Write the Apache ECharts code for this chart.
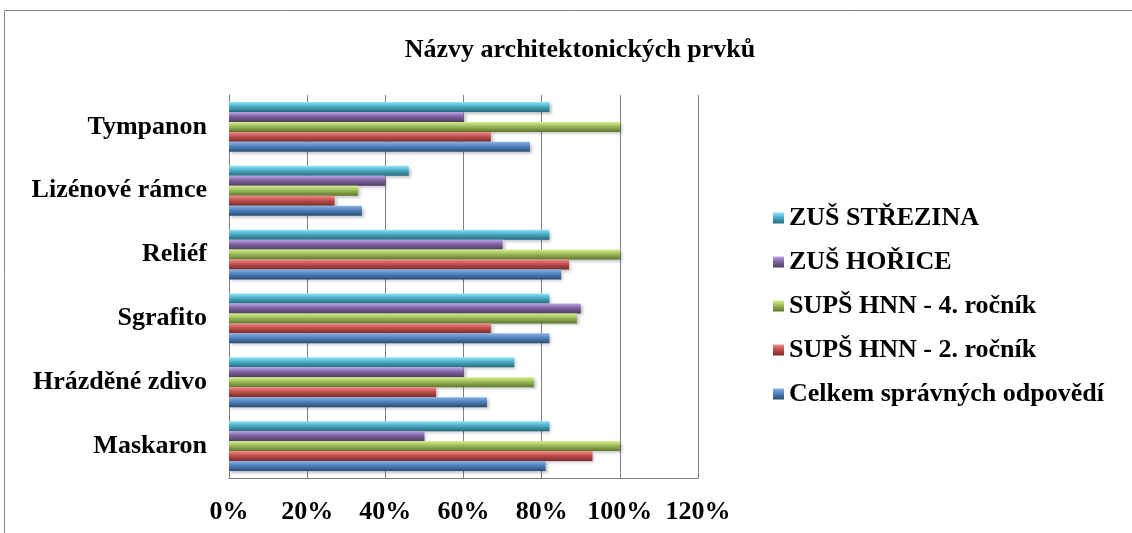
<!DOCTYPE html>
<html>
<head>
<meta charset="utf-8">
<script src="https://cdn.jsdelivr.net/npm/echarts@6/dist/echarts.min.js"></script>
<style>
html, body { margin: 0; padding: 0; background: #fff; }
#chart { width: 1132px; height: 533px; }
</style>
</head>
<body>
<div id="chart"></div>
<script>
// kategorie odspodu nahoru
var categories = ['Maskaron', 'Hrázděné zdivo', 'Sgrafito', 'Reliéf', 'Lizénové rámce', 'Tympanon'];

var celkem   = [0.81, 0.66, 0.82, 0.85, 0.34, 0.77];
var supsDruhy = [0.93, 0.53, 0.67, 0.87, 0.27, 0.67];
var supsCtvrty = [1.00, 0.78, 0.89, 1.00, 0.33, 1.00];
var zusHorice = [0.50, 0.60, 0.90, 0.70, 0.40, 0.60];
var zusStrezina = [0.82, 0.73, 0.82, 0.82, 0.46, 0.82];

var xTicks = [0, 0.2, 0.4, 0.6, 0.8, 1.0, 1.2];

// poradi shora dolu v ramci kategorie (echarts kresli prvni serii nahore)
var names = ['ZUŠ STŘEZINA', 'ZUŠ HOŘICE', 'SUPŠ HNN - 4. ročník', 'SUPŠ HNN - 2. ročník', 'Celkem správných odpovědí'];
var values = [zusStrezina, zusHorice, supsCtvrty, supsDruhy, celkem];
// svetla, zakladni, tmava
var colors = [
    ['#8ee6fb', '#4bacc6', '#276a7c'],
    ['#c0a4e6', '#8064a2', '#4d3b62'],
    ['#d6ef8c', '#9bbb59', '#5f7530'],
    ['#f08c88', '#c0504d', '#772c2a'],
    ['#8db3e6', '#4f81bd', '#2c4d75']
];

var myChart = echarts.init(document.getElementById('chart'));

var series = names.map(function (n, i) {
    return {
        name: n,
        type: 'bar',
        data: values[i],
        barGap: '0%',
        barCategoryGap: '22%',
        itemStyle: {
            color: new echarts.graphic.LinearGradient(0, 0, 0, 1, [
                {offset: 0, color: colors[i][0]},
                {offset: 0.45, color: colors[i][1]},
                {offset: 1, color: colors[i][2]}
            ]),
            shadowColor: 'rgba(0,0,0,0.25)',
            shadowBlur: 3,
            shadowOffsetX: 2,
            shadowOffsetY: 2
        }
    };
});

var font = '"Liberation Serif", "Times New Roman", serif';

var option = {
    backgroundColor: '#fff',
    animation: false,
    title: {
        text: 'Názvy architektonických prvků',
        left: 575,
        textAlign: 'center',
        top: 32,
        textStyle: {fontFamily: font, fontWeight: 'bold', fontSize: 26, color: '#000'}
    },
    graphic: [{
        type: 'rect',
        shape: {x: 4.5, y: 10.5, width: 1140, height: 540},
        style: {fill: 'none', stroke: '#8a8a8a', lineWidth: 1},
        silent: true
    }],
    legend: {
        orient: 'vertical',
        left: 768,
        top: 200,
        itemWidth: 11,
        itemHeight: 11,
        itemGap: 18,
        data: names,
        icon: 'rect',
        textStyle: {fontFamily: font, fontWeight: 'bold', fontSize: 26, color: '#000'}
    },
    grid: {
        left: 229,
        right: 434,
        top: 95,
        bottom: 55
    },
    xAxis: {
        type: 'value',
        min: 0,
        max: 1.2,
        interval: 0.2,
        axisLine: {show: true, lineStyle: {color: '#7f7f7f', width: 1}},
        axisTick: {show: false},
        splitLine: {show: true, lineStyle: {color: '#7f7f7f', width: 1}},
        axisLabel: {
            margin: 21,
            fontFamily: font,
            fontWeight: 'bold',
            fontSize: 26,
            color: '#000',
            formatter: function (v) {
                for (var k = 0; k < xTicks.length; k++) {
                    if (Math.abs(xTicks[k] - v) < 1e-6) return Math.round(xTicks[k] * 100) + '%';
                }
                return '';
            }
        }
    },
    yAxis: {
        type: 'category',
        data: categories,
        axisLine: {show: true, lineStyle: {color: '#7f7f7f', width: 1}},
        axisTick: {show: false},
        axisLabel: {margin: 22, fontFamily: font, fontWeight: 'bold', fontSize: 26, color: '#000'}
    },
    series: series
};

myChart.setOption(option);
</script>
</body>
</html>
